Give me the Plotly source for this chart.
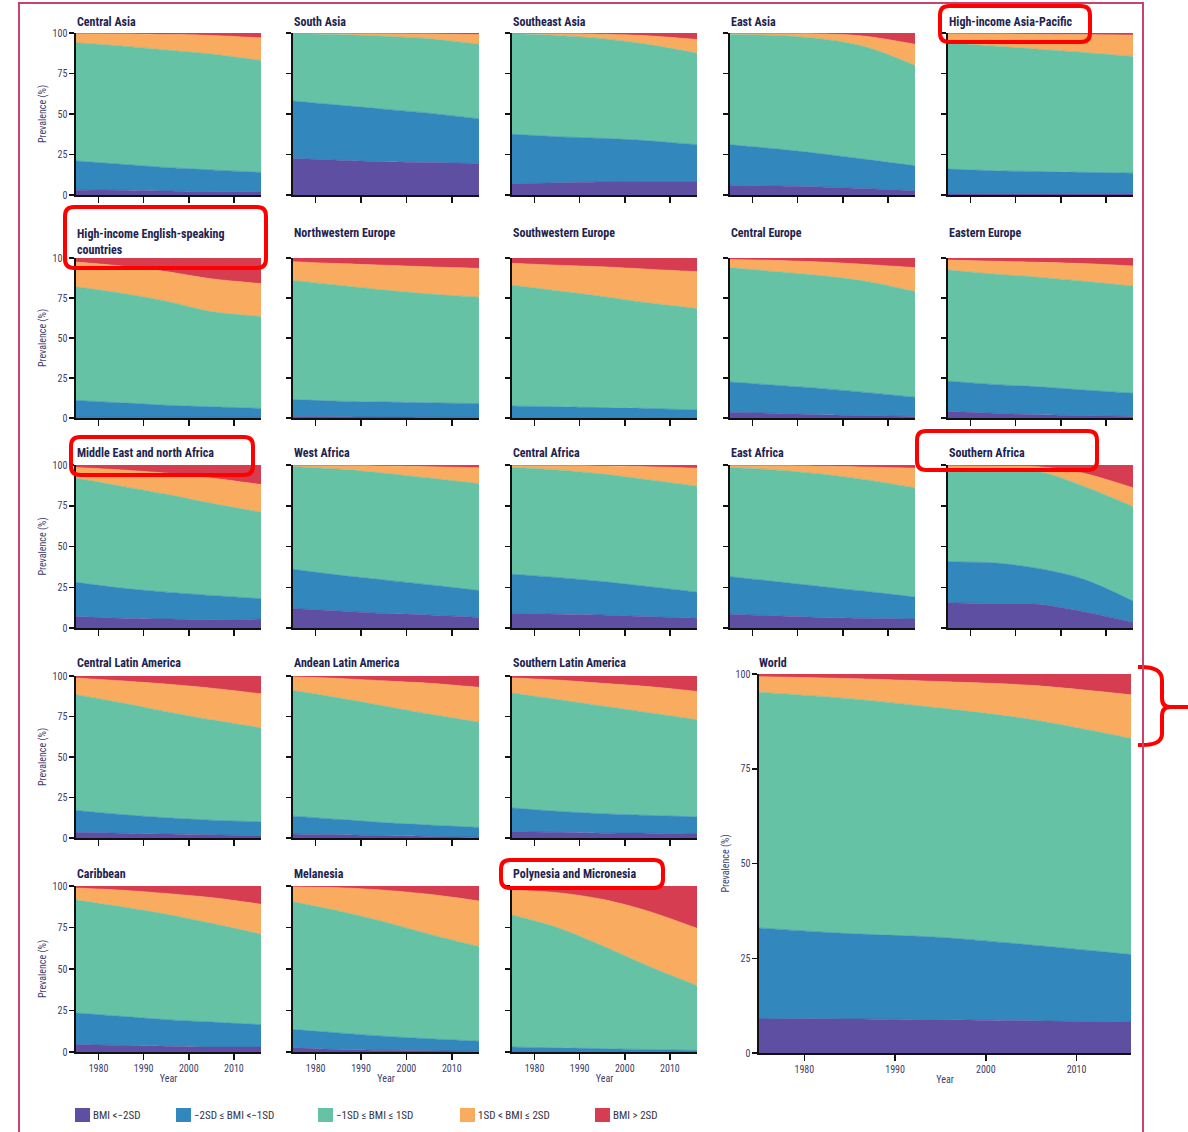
import plotly.graph_objects as go

# ---------------- data ----------------
years = [1975, 1985, 1995, 2005, 2016]
categories = ["BMI <\u22122SD", "\u22122SD \u2264 BMI <\u22121SD", "\u22121SD \u2264 BMI \u2264 1SD",
              "1SD < BMI \u2264 2SD", "BMI > 2SD"]
colors = ["#5E4FA2", "#3288BD", "#66C2A5", "#F9AB5F", "#D73D50"]
x_ticks = [1980, 1990, 2000, 2010]
y_ticks = [0, 25, 50, 75, 100]

# each row = one year (1975,1985,1995,2005,2016); columns = the 5 BMI categories (% prevalence)
central_asia = [[3, 18, 73, 5.7, 0.3], [3, 16, 73, 7.5, 0.5], [2.5, 14.5, 72.5, 9.5, 1], [2, 13.5, 71.5, 11.5, 1.5], [2, 12, 69, 14, 3]]
south_asia = [[22.5, 35.5, 41.5, 0.4, 0.1], [21.5, 34, 43.5, 0.8, 0.2], [20.5, 32.5, 45, 1.7, 0.3], [20, 30.5, 46, 3, 0.5], [19.5, 27.5, 46, 6, 1]]
southeast_asia = [[7, 30.5, 62, 0.4, 0.1], [7.5, 28.5, 62.5, 1.2, 0.3], [8, 27, 61.5, 2.8, 0.7], [8, 25.5, 59.5, 5.3, 1.7], [8, 23, 56.5, 8.5, 4]]
east_asia = [[6, 25, 68, 0.9, 0.1], [5.5, 23, 70, 1.3, 0.2], [5, 20.5, 71, 3, 0.5], [4, 18, 69.5, 6.5, 2], [2.5, 15.5, 62, 13, 7]]
hi_asia_pacific = [[1, 15, 78, 5.7, 0.3], [1, 14, 77, 7.5, 0.5], [1, 13.5, 75.5, 9.3, 0.7], [1, 13, 74, 11, 1], [1, 12.5, 72, 13.2, 1.3]]
hi_english = [[0.5, 10.5, 71, 15.5, 2.5], [0.5, 9, 68.5, 17, 5], [0.5, 7.5, 65, 18.5, 8.5], [0.5, 6.5, 59.5, 20.5, 13], [0.5, 5.5, 57.5, 20.5, 16]]
nw_europe = [[1, 10.5, 74.5, 11.7, 2.3], [0.8, 9.7, 72.5, 13.5, 3.5], [0.6, 9.4, 70, 15.5, 4.5], [0.5, 9, 68, 17, 5.5], [0.5, 8.5, 66.5, 18, 6.5]]
sw_europe = [[0.3, 7.2, 75.5, 13.7, 3.3], [0.3, 6.7, 72.5, 16, 4.5], [0.3, 6.2, 69.5, 18.5, 5.5], [0.3, 5.7, 66, 21, 7], [0.3, 4.7, 63.5, 23, 8.5]]
central_europe = [[3.5, 19, 71.5, 5, 1], [3, 17.5, 71, 7, 1.5], [2, 16.5, 70.5, 8.5, 2.5], [1.5, 14.5, 69.5, 10.5, 4], [1, 12, 66, 15, 6]]
eastern_europe = [[4, 19, 69.5, 6.2, 1.3], [3, 18, 69, 8, 2], [2, 17.5, 68.5, 9.3, 2.7], [1.5, 16, 68, 11, 3.5], [1, 14.5, 67, 12.5, 5]]
middle_east = [[7, 21, 64, 6.5, 1.5], [6, 18.5, 62.5, 10, 3], [5.5, 16.5, 60, 13, 5], [5, 15, 56.5, 15.5, 8], [5.5, 12.5, 53, 17, 12]]
west_africa = [[12, 24, 63, 0.9, 0.1], [10.5, 22, 65, 2.2, 0.3], [9, 20.5, 65.5, 4.4, 0.6], [8, 18.5, 65.5, 7, 1], [6.5, 16.5, 65.5, 9.8, 1.7]]
central_africa = [[9, 24, 65.5, 1.4, 0.1], [8.5, 22.5, 66, 2.7, 0.3], [8, 20.5, 66, 4.9, 0.6], [7, 18.5, 65.5, 8, 1], [6, 16, 65, 11, 2]]
east_africa = [[8.5, 23, 67, 1.4, 0.1], [7.5, 21, 68.5, 2.7, 0.3], [6.5, 19, 69, 4.8, 0.7], [6, 16.5, 68.5, 7.8, 1.2], [5.5, 13.5, 67, 12, 2]]
southern_africa = [[15.5, 25, 56.5, 2.5, 0.5], [15, 25, 56.5, 2.8, 0.7], [14.5, 22, 59.5, 3, 1], [10, 20, 57, 8, 5], [3.5, 13, 58, 11.5, 14]]
central_latam = [[3.5, 13.5, 71.5, 10.3, 1.2], [3, 11.5, 69, 13.5, 3], [2.5, 10, 65.5, 17, 5], [2, 9, 62, 19.5, 7.5], [1.5, 8.5, 58, 21, 11]]
andean_latam = [[2.5, 11, 77.5, 8.5, 0.5], [2, 9.5, 75, 12, 1.5], [1.5, 8, 72, 15.5, 3], [1, 7, 68.5, 19, 4.5], [0.5, 6, 65, 21.5, 7]]
southern_latam = [[4, 14.5, 71, 9.3, 1.2], [3.5, 13, 69, 12, 2.5], [3, 12, 66.5, 14, 4.5], [3, 11, 63.5, 16, 6.5], [2.5, 10.5, 60, 17.5, 9.5]]
caribbean = [[4.5, 19, 68, 7.3, 1.2], [4, 17.5, 66, 10, 2.5], [3.5, 16, 63.5, 12.5, 4.5], [3, 15, 59.5, 15.5, 7], [3, 13.5, 54.5, 18, 11]]
melanesia = [[2.5, 11, 77, 9, 0.5], [1.5, 10, 73.5, 14, 1], [1, 8.5, 69, 19, 2.5], [0.8, 7.2, 63, 24, 5], [0.5, 6, 57, 27.5, 9]]
polynesia = [[0.5, 2.5, 79.5, 15, 2.5], [0.5, 2, 72.5, 21, 4], [0.3, 1.7, 62, 28, 8], [0.3, 1.2, 50.5, 33, 15], [0.3, 0.7, 39, 34.5, 25.5]]
world = [[9, 24, 62.2, 4.1, 0.7], [9, 22.5, 62, 5.3, 1.2], [8.8, 21.7, 60.5, 7, 2], [8.5, 20, 59.5, 9, 3], [8.2, 17.8, 57, 11.5, 5.5]]

regions = [
    ("Central Asia", central_asia), ("South Asia", south_asia), ("Southeast Asia", southeast_asia),
    ("East Asia", east_asia), ("High-income Asia-Pacific", hi_asia_pacific),
    ("High-income English-speaking<br>countries", hi_english), ("Northwestern Europe", nw_europe),
    ("Southwestern Europe", sw_europe), ("Central Europe", central_europe), ("Eastern Europe", eastern_europe),
    ("Middle East and north Africa", middle_east), ("West Africa", west_africa), ("Central Africa", central_africa),
    ("East Africa", east_africa), ("Southern Africa", southern_africa),
    ("Central Latin America", central_latam), ("Andean Latin America", andean_latam),
    ("Southern Latin America", southern_latam),
    ("Caribbean", caribbean), ("Melanesia", melanesia), ("Polynesia and Micronesia", polynesia),
    ("World", world),
]

# ---------------- layout helpers ----------------
W, H = 1188, 1132
FONT = "Liberation Sans Narrow, Arial Narrow, Roboto Condensed, Roboto, Liberation Sans, Arial, sans-serif"
TITLE_COLOR = "#1d2350"
TICK_COLOR = "#3d3d6b"


def px(x):
    return x / W


def py(y):
    return 1 - y / H


col_x = [(76, 261), (293, 479), (512, 697), (730, 915), (948, 1133)]
row_y = [(33, 195), (258, 418), (465, 628), (676, 838), (886, 1052)]
title_y = [22, 233, 453, 663, 874]

slots = []
for r in range(3):
    for c in range(5):
        slots.append((c, r))
slots += [(0, 3), (1, 3), (2, 3), (0, 4), (1, 4), (2, 4), ("world", None)]

fig = go.Figure()
layout_axes = {}
annotations = []

for i, ((name, data), slot) in enumerate(zip(regions, slots), start=1):
    if slot[0] == "world":
        (x0, x1), (y0, y1) = (759, 1131), (674, 1053)
        is_left, is_bottom = True, True
        ty, tx = 663, 757
    else:
        c, r = slot
        (x0, x1), (y0, y1) = col_x[c], row_y[r]
        is_left, is_bottom = (c == 0), (r == 4)
        ty, tx = title_y[r], x0 - 1
    xa = "x" if i == 1 else f"x{i}"
    ya = "y" if i == 1 else f"y{i}"
    for k in range(5):
        vals = [row[k] for row in data]
        fig.add_trace(go.Scatter(
            x=years, y=vals, xaxis=xa, yaxis=ya, stackgroup=f"g{i}", mode="lines",
            line=dict(width=0.6, color=colors[k], shape="spline", smoothing=0.9),
            fillcolor=colors[k], name=categories[k], showlegend=False, hoverinfo="skip"))
    xkey = "xaxis" if i == 1 else f"xaxis{i}"
    ykey = "yaxis" if i == 1 else f"yaxis{i}"
    layout_axes[xkey] = dict(
        domain=[px(x0), px(x1)], anchor=ya, range=[1975, 2016], tickvals=x_ticks,
        ticks="outside", ticklen=6, tickwidth=1.5, tickcolor="#111",
        showline=True, linecolor="#111", linewidth=1.6, showgrid=False, zeroline=False,
        showticklabels=is_bottom, tickfont=dict(size=10, color=TICK_COLOR, family=FONT),
        title=dict(text="Year" if is_bottom else "", font=dict(size=10, color=TICK_COLOR, family=FONT), standoff=2),
        automargin=False, fixedrange=True)
    layout_axes[ykey] = dict(
        domain=[py(y1), py(y0)], anchor=xa, range=[0, 100], tickvals=y_ticks,
        ticks="outside", ticklen=5, tickwidth=1.5, tickcolor="#111",
        showline=True, linecolor="#111", linewidth=1.6, showgrid=False, zeroline=False,
        showticklabels=is_left, tickfont=dict(size=10, color=TICK_COLOR, family=FONT),
        title=dict(text="Prevalence (%)" if is_left else "", font=dict(size=10, color=TICK_COLOR, family=FONT), standoff=4),
        automargin=False, fixedrange=True)
    annotations.append(dict(
        x=px(tx), y=py(ty), xref="paper", yref="paper", xanchor="left",
        yanchor="top" if "<br>" in name else "middle",
        yshift=8 if "<br>" in name else 0,
        text=f"<b>{name}</b>", showarrow=False, align="left",
        font=dict(size=12, color=TITLE_COLOR, family=FONT)))

# ---------------- legend (manual) ----------------
legend_x = [75, 176, 318, 460, 595]
shapes = []
for k, lx in enumerate(legend_x):
    shapes.append(dict(type="rect", xref="paper", yref="paper",
                       x0=px(lx), x1=px(lx + 15), y0=py(1122), y1=py(1108),
                       fillcolor=colors[k], line=dict(width=0)))
    annotations.append(dict(x=px(lx + 16), y=py(1115), xref="paper", yref="paper",
                            xanchor="left", yanchor="middle", text=categories[k], showarrow=False,
                            font=dict(size=11, color="#333344", family=FONT)))


# ---------------- highlight marks ----------------
def rrect(x0, y0, x1, y1, r=9):
    rx, ry = r / W, r / H
    X0, X1, T, B = px(x0), px(x1), py(y0), py(y1)
    return (f"M {X0+rx},{T} L {X1-rx},{T} Q {X1},{T} {X1},{T-ry} L {X1},{B+ry} "
            f"Q {X1},{B} {X1-rx},{B} L {X0+rx},{B} Q {X0},{B} {X0},{B+ry} "
            f"L {X0},{T-ry} Q {X0},{T} {X0+rx},{T} Z")


for box in [(940, 6, 1090, 42), (65, 207, 266, 268), (71, 437, 253, 475),
            (917, 431, 1097, 470), (501, 860, 663, 888)]:
    shapes.append(dict(type="path", xref="paper", yref="paper", path=rrect(*box),
                       line=dict(color="#FF0000", width=4)))


def P(x, y):
    return f"{px(x)},{py(y)}"


brace = (f"M {P(1138, 667)} Q {P(1162, 666)} {P(1162, 680)} L {P(1162, 698)} "
         f"Q {P(1162, 707)} {P(1170, 707)} L {P(1188, 707)} M {P(1170, 707)} "
         f"Q {P(1162, 707)} {P(1162, 716)} L {P(1162, 734)} Q {P(1162, 746)} {P(1138, 745)}")
shapes.append(dict(type="path", xref="paper", yref="paper", path=brace,
                   line=dict(color="#FF0000", width=4)))

# outer frame
shapes.append(dict(type="path", xref="paper", yref="paper",
                   path=f"M {P(19, 1140)} L {P(19, 3)} L {P(1143, 3)} L {P(1143, 1140)}",
                   line=dict(color="#C9436E", width=2)))

fig.update_layout(
    width=W, height=H, autosize=False,
    margin=dict(l=0, r=0, t=0, b=0, pad=0, autoexpand=False),
    paper_bgcolor="white", plot_bgcolor="white",
    showlegend=False, annotations=annotations, shapes=shapes,
    font=dict(family=FONT),
    **layout_axes)

fig.write_html(
    "out.html",
    config={"displayModeBar": False, "staticPlot": True},
    post_script=(
        "var gd=document.getElementById('{plot_id}');"
        "gd.style.position='fixed';gd.style.top='0px';gd.style.left='0px';"
        "document.documentElement.style.margin='0';document.documentElement.style.overflow='hidden';"
        "document.body.style.margin='0';document.body.style.padding='0';"
        "document.body.style.height='1132px';document.body.style.overflow='hidden';"
    ),
)
